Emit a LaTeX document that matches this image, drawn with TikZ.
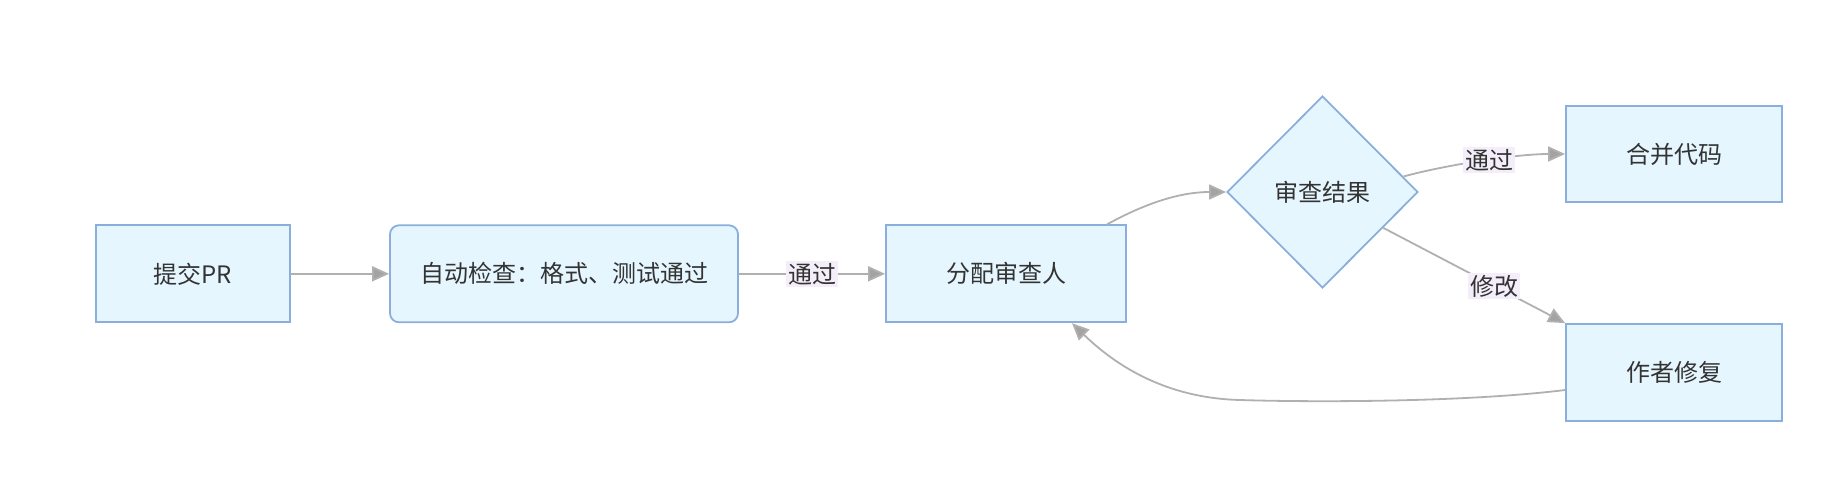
\documentclass[tikz,border=0pt]{standalone}
\usepackage{fontspec}
\setmainfont{Noto Sans CJK SC}
\usetikzlibrary{shapes.geometric,arrows.meta,calc}
\definecolor{nodefill}{HTML}{E6F6FF}
\definecolor{nodeborder}{HTML}{8BAFDC}
\definecolor{edgecol}{HTML}{B0B0B0}
\definecolor{tipcol}{HTML}{A3A3A3}
\definecolor{lblbg}{HTML}{F3EEFA}
\definecolor{txtcol}{HTML}{333333}
\begin{document}
\begin{tikzpicture}[x=1pt,y=-1pt,
  font=\fontsize{24}{28}\selectfont,
  box/.style={draw=nodeborder,fill=nodefill,line width=1.8pt,inner sep=0pt,
    minimum height=97pt,text=txtcol},
  dia/.style={diamond,draw=nodeborder,fill=nodefill,line width=1.8pt,inner sep=0pt,
    minimum width=191pt,minimum height=192pt,text=txtcol},
  edge/.style={draw=edgecol,line width=1.8pt,
    -{Triangle[length=17pt,width=15pt,fill=tipcol]}},
  lbl/.style={fill=lblbg,inner sep=2pt,text=txtcol}]
\useasboundingbox (0,0) rectangle (1831,492);
\node[box,minimum width=194pt] (a) at (192.6,273.8) {提交PR};
\node[box,minimum width=348pt,rounded corners=9pt] (b) at (564,273.8) {自动检查：格式、测试通过};
\node[box,minimum width=240pt] (c) at (1006,273.8) {分配审查人};
\node[dia] (d) at (1322.5,192) {审查结果};
\node[box,minimum width=216pt,minimum height=96pt] (e) at (1674,154) {合并代码};
\node[box,minimum width=216pt] (f) at (1674,372.5) {作者修复};

\draw[edge] (a.east) -- (b.west);
\draw[edge] (b.east) -- node[lbl] {通过} (c.west);
\draw[edge] ($(c.north)+(101,0)$) .. controls +(40,-22) and +(-45,0) .. (d.west);
\draw[edge] ($(d.east)!0.16!(d.north)$) .. controls +(40,-11) and +(-50,0) .. node[lbl,pos=0.55] {通过} (e.west);
\draw[edge] ($(d.east)!0.37!(d.south)$) -- node[lbl,pos=0.61] {修改} (f.north west);
\draw[edge] ($(f.west)+(0,17.5)$) .. controls (1460,403) and (1300,402) .. (1240,400)
  .. controls (1160,398) and (1110,360) .. ($(c.south)+(66,0)$);
\end{tikzpicture}
\end{document}
